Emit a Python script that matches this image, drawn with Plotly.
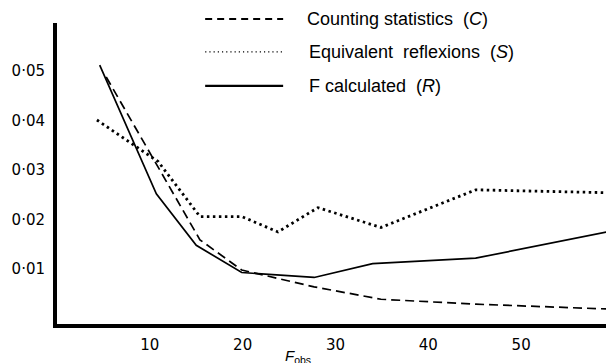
import plotly.graph_objects as go

# Data
counting_x = [5.3, 10.7, 15.4, 19.9, 27.7, 34.9, 45.1, 59.8]
counting_y = [0.0488, 0.0312, 0.0159, 0.0098, 0.0064, 0.0039, 0.0029, 0.0019]

equiv_x = [4.3, 10.9, 15.4, 19.9, 23.8, 28.1, 34.9, 45.1, 59.8]
equiv_y = [0.0401, 0.0317, 0.0206, 0.0206, 0.0175, 0.0224, 0.0184, 0.0260, 0.0254]

fcalc_x = [4.6, 10.7, 15.0, 19.9, 27.7, 34.0, 45.1, 59.8]
fcalc_y = [0.0512, 0.0252, 0.0148, 0.0093, 0.0083, 0.0111, 0.0122, 0.0177]

x_ticks = [10, 20, 30, 40, 50]
y_ticks = [0.01, 0.02, 0.03, 0.04, 0.05]
y_ticklabels = ["0·01", "0·02", "0·03", "0·04", "0·05"]

legend_names = ["Counting statistics  (<i>C</i>)",
                "Equivalent  reflexions  (<i>S</i>)",
                "F calculated  (<i>R</i>)"]

FONT = "Liberation Sans, Arial, sans-serif"
TICKFONT = "DejaVu Sans, sans-serif"

fig = go.Figure()
fig.add_trace(go.Scatter(x=counting_x, y=counting_y, mode="lines",
                         line=dict(color="black", width=1.7, dash="9px,5px"),
                         name=legend_names[0]))
fig.add_trace(go.Scatter(x=equiv_x, y=equiv_y, mode="lines",
                         line=dict(color="black", width=2.8, dash="2.5px,3.5px"),
                         name=legend_names[1]))
fig.add_trace(go.Scatter(x=fcalc_x, y=fcalc_y, mode="lines",
                         line=dict(color="black", width=1.7),
                         name=legend_names[2]))

# Hand-drawn style legend (key lines + labels), placed in paper coordinates
legend_styles = [dict(dash="7px,5px", width=2),
                 dict(dash="1.2px,3px", width=1.3),
                 dict(dash="solid", width=2.4)]
legend_y = [1.013, 0.904, 0.791]
legend_text_x = [0.445, 0.449, 0.449]
for name, st, ly, tx in zip(legend_names, legend_styles, legend_y, legend_text_x):
    fig.add_shape(type="line", xref="paper", yref="paper",
                  x0=0.266, x1=0.406, y0=ly, y1=ly,
                  line=dict(color="black", width=st["width"], dash=st["dash"]))
    fig.add_annotation(xref="paper", yref="paper", x=tx, y=ly,
                       text=name, showarrow=False, xanchor="left",
                       yanchor="middle", font=dict(size=18, color="black", family=FONT))

fig.add_annotation(xref="paper", yref="paper", x=0.432, y=-0.107,
                   text="<i>F</i><sub>obs</sub>", showarrow=False,
                   xanchor="center", yanchor="middle",
                   font=dict(size=15, color="black", family=FONT))

# The page adds an 8px body margin, so the figure is 8px smaller than the window
fig.update_layout(
    width=606, height=355,
    margin=dict(l=49, r=0, t=15, b=39),
    paper_bgcolor="white", plot_bgcolor="white",
    showlegend=False,
    font=dict(family=FONT, size=15, color="black"),
)
fig.update_xaxes(range=[0, 60], tickvals=x_ticks, showgrid=False, zeroline=False,
                 showline=True, linecolor="black", linewidth=4, ticks="",
                 ticklabelstandoff=4, tickfont=dict(size=15, family=TICKFONT))
fig.update_yaxes(range=[-0.0011, 0.0597], tickvals=y_ticks, ticktext=y_ticklabels,
                 showgrid=False, zeroline=False, showline=True, linecolor="black",
                 linewidth=4, ticks="", ticklabelstandoff=5,
                 tickfont=dict(size=15, family=TICKFONT))

fig.write_html("out.html")
